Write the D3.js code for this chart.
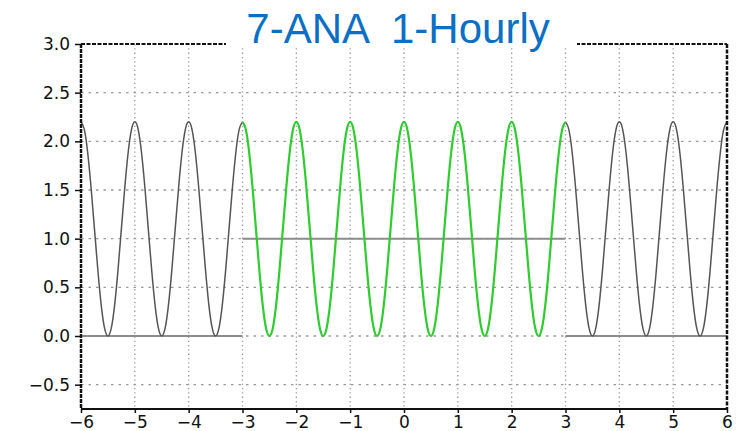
<!DOCTYPE html>
<html>
<head>
<meta charset="utf-8">
<script src="https://cdn.jsdelivr.net/npm/d3@7"></script>
<style>
  body { margin: 0; background: #fff; }
  .tick text { font-family: "DejaVu Sans", sans-serif; font-size: 17px; fill: #111; }
</style>
</head>
<body>
<div id="chart"></div>
<script>
const margin = { top: 44, right: 18, bottom: 22, left: 81 },
    width = 745 - margin.left - margin.right,
    height = 431 - margin.top - margin.bottom;

const titleText = "7-ANA  1-Hourly";
const xTicks = [-6, -5, -4, -3, -2, -1, 0, 1, 2, 3, 4, 5, 6];
const yTicks = [-0.5, 0.0, 0.5, 1.0, 1.5, 2.0, 2.5, 3.0];

// one hourly cycle, read at 1/16 h steps starting on the hour
const waveCycle = [2.2, 2.12, 1.88, 1.52, 1.1, 0.68, 0.32, 0.08, 0.0, 0.08, 0.32, 0.68, 1.1, 1.52, 1.88, 2.12];
const outsideRanges = [[-6, -3], [3, 6]];   // black wave
const windowRange = [-3, 3];                // green wave
const baseLevels = [
    { x0: -6, x1: -3, y: 0 },
    { x0: -3, x1: 3, y: 1 },
    { x0: 3, x1: 6, y: 0 }
];

var x = d3.scaleLinear().domain([-6, 6]).range([0, width]);
var y = d3.scaleLinear().domain([-0.75, 3.0]).range([height, 0]);

const wavePoints = function(range) {
    var pts = [];
    var n = waveCycle.length;
    var steps = (range[1] - range[0]) * n;
    for (var i = 0; i <= steps; i++) {
        pts.push([range[0] + i / n, waveCycle[i % n]]);
    }
    return pts;
};

var line = d3.line()
    .x(function(d) { return x(d[0]); })
    .y(function(d) { return y(d[1]); })
    .curve(d3.curveNatural);

var svg = d3.select("#chart")
    .append("svg")
    .attr("width", 745)
    .attr("height", 431);

var g = svg.append("g")
    .attr("transform", "translate(" + margin.left + "," + margin.top + ")");

// grid
g.append("g").selectAll("line")
    .data(xTicks.filter(function(d) { return d > -6 && d < 6; }))
    .enter().append("line")
    .attr("x1", function(d) { return x(d); })
    .attr("x2", function(d) { return x(d); })
    .attr("y1", 0).attr("y2", height)
    .attr("stroke", "#9a9a9a")
    .attr("stroke-width", 1.3)
    .attr("stroke-dasharray", "1.3,3");

g.append("g").selectAll("line")
    .data(yTicks.filter(function(d) { return d < 3; }))
    .enter().append("line")
    .attr("x1", 0).attr("x2", width)
    .attr("y1", function(d) { return y(d); })
    .attr("y2", function(d) { return y(d); })
    .attr("stroke", "#9a9a9a")
    .attr("stroke-width", 1.3)
    .attr("stroke-dasharray", "2.5,5");

// base levels
g.append("g").selectAll("line")
    .data(baseLevels)
    .enter().append("line")
    .attr("x1", function(d) { return x(d.x0); })
    .attr("x2", function(d) { return x(d.x1); })
    .attr("y1", function(d) { return y(d.y); })
    .attr("y2", function(d) { return y(d.y); })
    .attr("stroke", "#8c8c8c")
    .attr("stroke-width", 2);

// waves
g.append("g").selectAll("path")
    .data(outsideRanges)
    .enter().append("path")
    .attr("d", function(d) { return line(wavePoints(d)); })
    .attr("fill", "none")
    .attr("stroke", "#555")
    .attr("stroke-width", 1.5);

g.append("path")
    .attr("d", line(wavePoints(windowRange)))
    .attr("fill", "none")
    .attr("stroke", "#2fcc2f")
    .attr("stroke-width", 2.2);

// frame
g.append("line").attr("x1", 0).attr("x2", width).attr("y1", 0).attr("y2", 0)
    .attr("stroke", "#111").attr("stroke-width", 2).attr("stroke-dasharray", "4,1.5");
g.append("line").attr("x1", width).attr("x2", width).attr("y1", 0).attr("y2", height)
    .attr("stroke", "#111").attr("stroke-width", 2.5).attr("stroke-dasharray", "4,1.5");
g.append("line").attr("x1", 0).attr("x2", 0).attr("y1", 0).attr("y2", height)
    .attr("stroke", "#111").attr("stroke-width", 2.5).attr("stroke-dasharray", "4,1");
g.append("line").attr("x1", 0).attr("x2", width).attr("y1", height).attr("y2", height)
    .attr("stroke", "#111").attr("stroke-width", 2);

// axes
var yAxis = g.append("g")
    .call(d3.axisLeft(y).tickValues(yTicks).tickFormat(d3.format(".1f")).tickSize(6).tickPadding(5));
yAxis.select(".domain").remove();
yAxis.selectAll(".tick line").attr("stroke", "#111").attr("stroke-width", 1.5);

var xAxis = g.append("g")
    .attr("transform", "translate(0," + height + ")")
    .call(d3.axisBottom(x).tickValues(xTicks).tickFormat(d3.format("d")).tickSize(4).tickPadding(3));
xAxis.select(".domain").remove();
xAxis.selectAll(".tick line").attr("stroke", "#111").attr("stroke-width", 1.5);

// title with white backing over the frame
svg.append("rect")
    .attr("x", 226).attr("y", 0)
    .attr("width", 351).attr("height", 46)
    .attr("fill", "#fff");

svg.append("text")
    .attr("x", 398)
    .attr("y", 43)
    .attr("text-anchor", "middle")
    .attr("font-family", "Liberation Sans, Arial, sans-serif")
    .attr("font-size", 42)
    .attr("fill", "#0b6fc3")
    .style("white-space", "pre")
    .text(titleText);
</script>
</body>
</html>
